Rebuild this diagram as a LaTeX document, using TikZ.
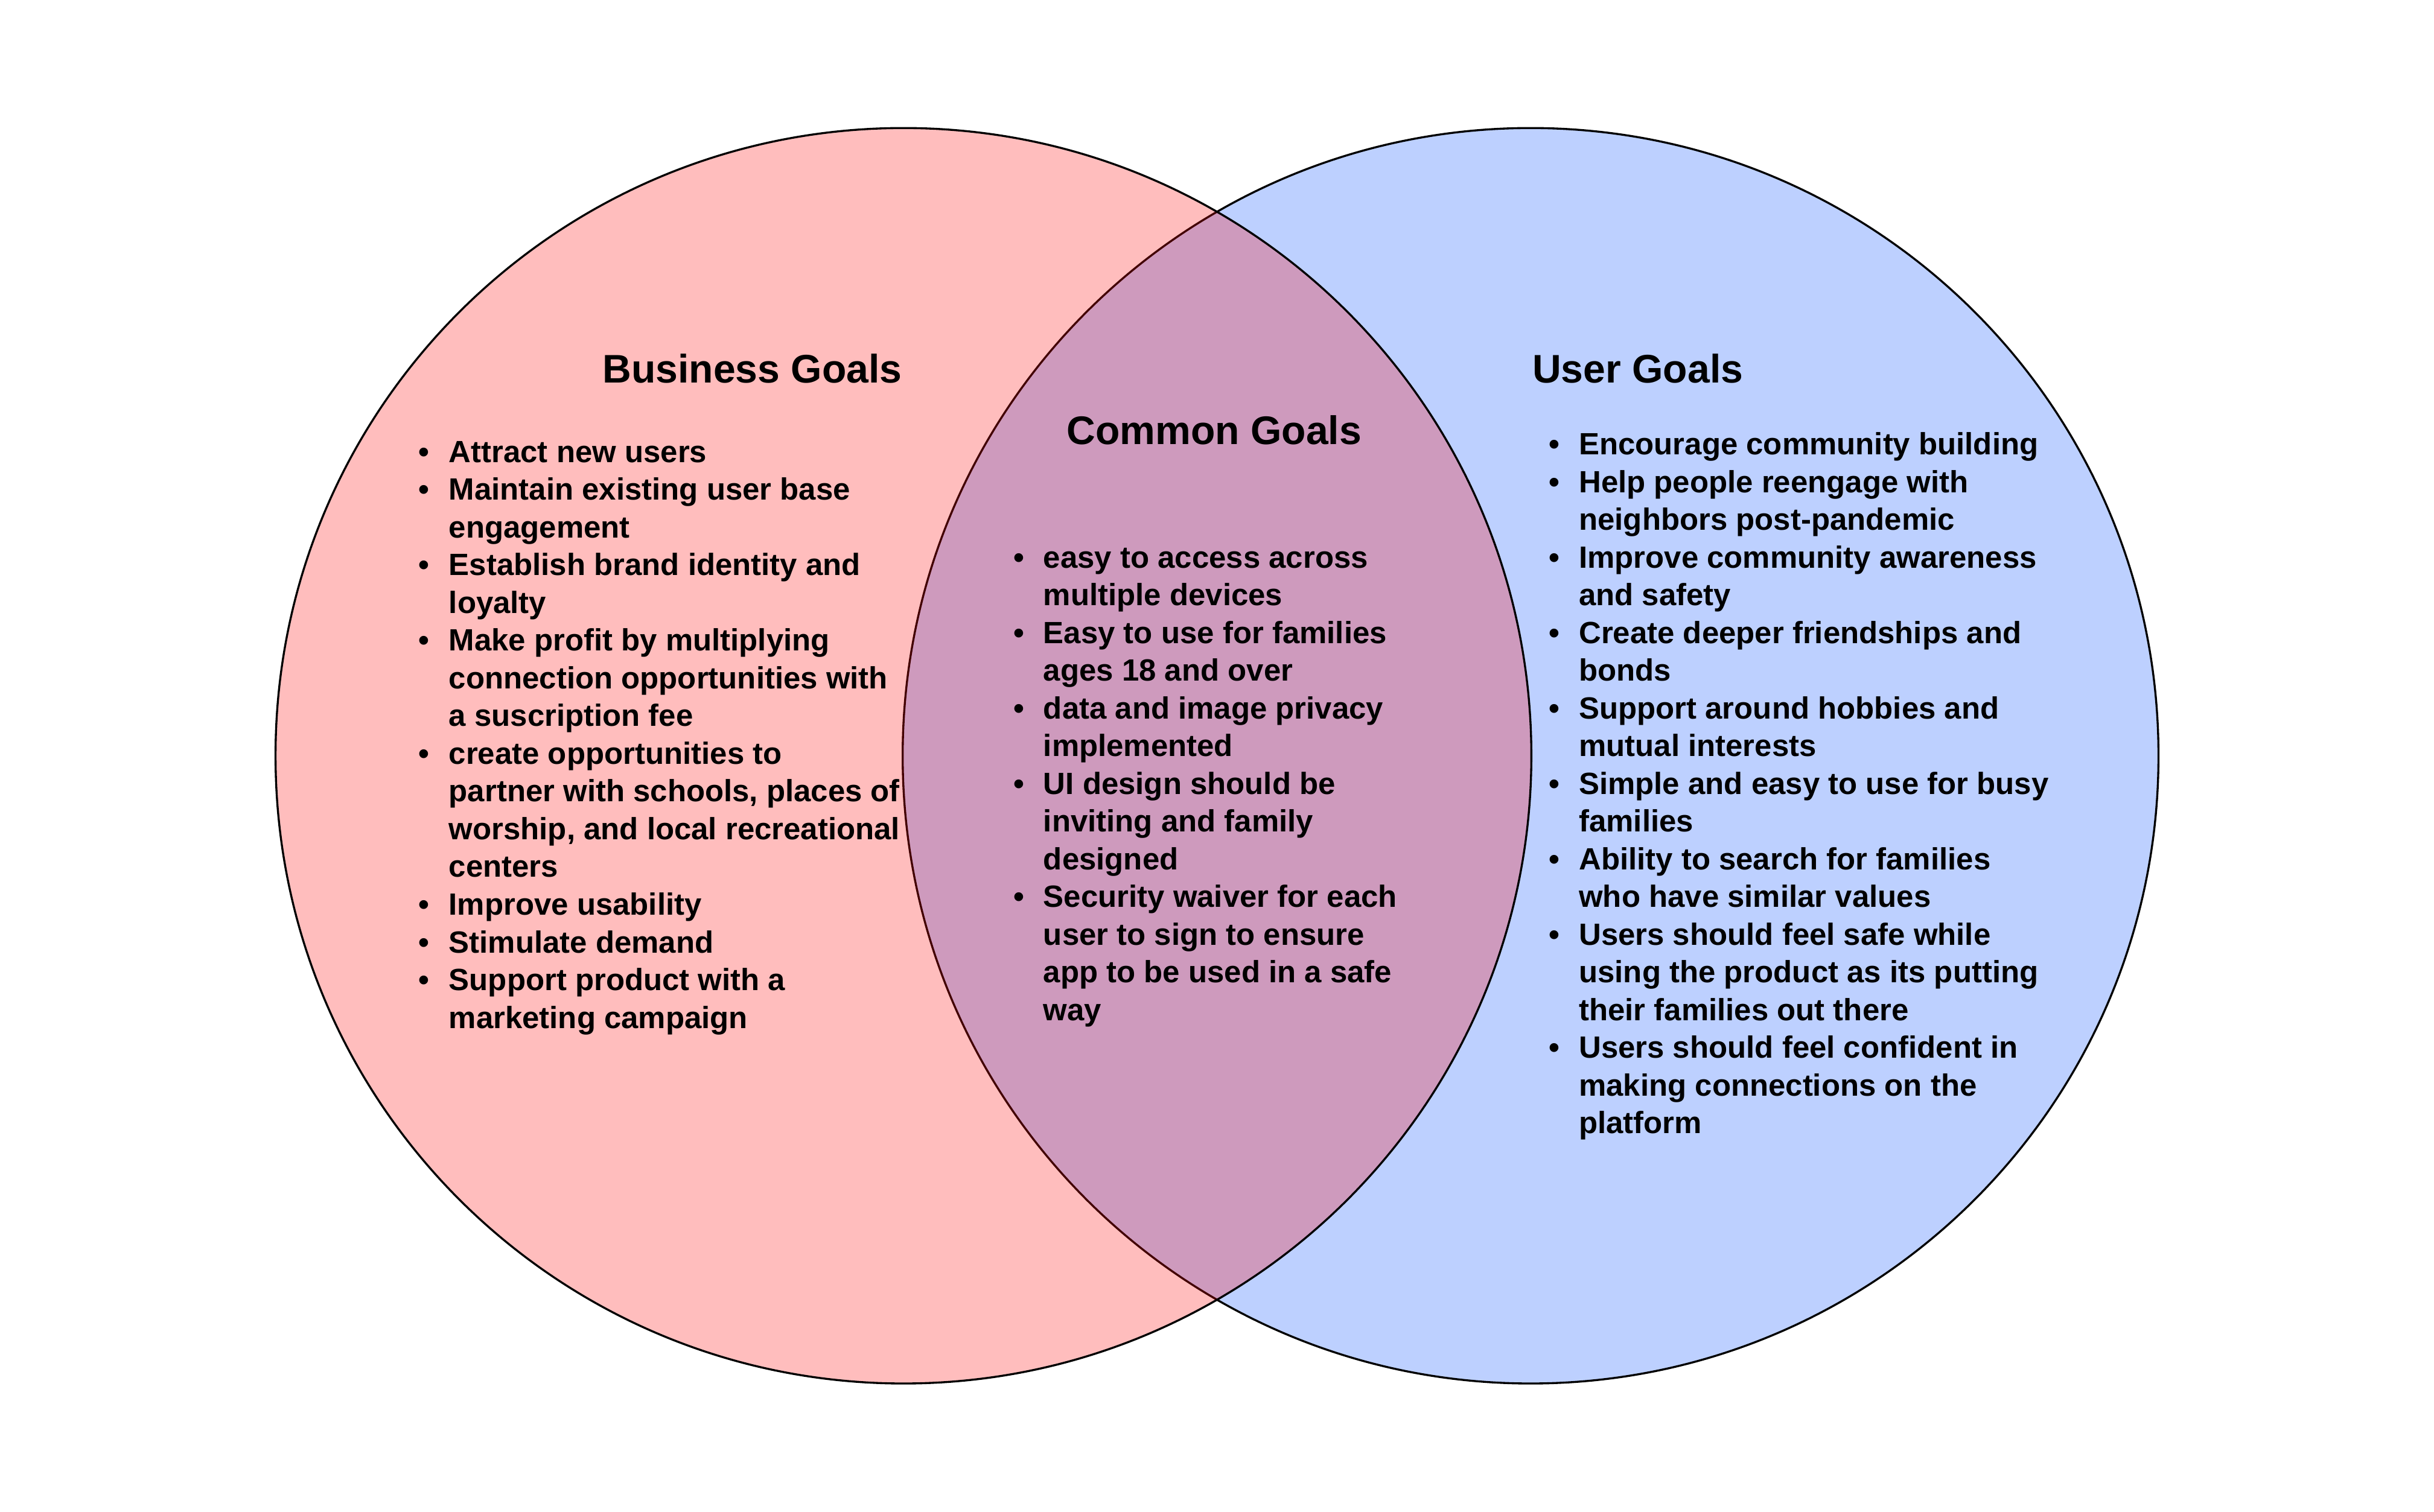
\documentclass[tikz,border=0pt]{standalone}
\usepackage{fontspec}
\setmainfont{Liberation Sans}
\definecolor{userblue}{RGB}{189,208,255}
\newcommand\bu{\makebox[19.4pt][l]{\textbullet}}
\newcommand\ct{\hspace*{19.4pt}}
\begin{document}
\begin{tikzpicture}[x=1pt,y=-1pt,
  ring/.style={draw=black,line width=1.3pt},
  head/.style={font=\bfseries\fontsize{25.7}{30}\selectfont,anchor=base west,inner sep=0pt},
  listbox/.style={font=\bfseries\fontsize{19.8}{24.3}\selectfont,anchor=base west,inner sep=0pt}]
\useasboundingbox (0,0) rectangle (1568,974);
\fill[white] (0,0) rectangle (1568,974);
\coordinate (bc) at (582,487);
\coordinate (uc) at (986,487);
% user circle (below)
\fill[userblue] (uc) circle[radius=404.5];
\draw[ring] (uc) circle[radius=404.5];
% business circle (translucent, on top)
\fill[red,fill opacity=0.26] (bc) circle[radius=404.5];
\draw[ring] (bc) circle[radius=404.5];

\node[head] (bt) at (388,246.5) {Business Goals};
\node[head] (ct) at (687,286.5) {Common Goals};
\node[head] (ut) at (987,246.5) {User Goals};

\node[listbox] (bl) at (269.6,298) {\begin{tabular}[t]{@{}l@{}}
\bu Attract new users\\
\bu Maintain existing user base\\
\ct engagement\\
\bu Establish brand identity and\\
\ct loyalty\\
\bu Make profit by multiplying\\
\ct connection opportunities with\\
\ct a suscription fee\\
\bu create opportunities to\\
\ct partner with schools, places of\\
\ct worship, and local recreational\\
\ct centers\\
\bu Improve usability\\
\bu Stimulate demand\\
\bu Support product with a\\
\ct marketing campaign
\end{tabular}};

\node[listbox] (cl) at (652.6,366) {\begin{tabular}[t]{@{}l@{}}
\bu easy to access across\\
\ct multiple devices\\
\bu Easy to use for families\\
\ct ages 18 and over\\
\bu data and image privacy\\
\ct implemented\\
\bu UI design should be\\
\ct inviting and family\\
\ct designed\\
\bu Security waiver for each\\
\ct user to sign to ensure\\
\ct app to be used in a safe\\
\ct way
\end{tabular}};

\node[listbox] (ul) at (997.6,293) {\begin{tabular}[t]{@{}l@{}}
\bu Encourage community building\\
\bu Help people reengage with\\
\ct neighbors post-pandemic\\
\bu Improve community awareness\\
\ct and safety\\
\bu Create deeper friendships and\\
\ct bonds\\
\bu Support around hobbies and\\
\ct mutual interests\\
\bu Simple and easy to use for busy\\
\ct families\\
\bu Ability to search for families\\
\ct who have similar values\\
\bu Users should feel safe while\\
\ct using the product as its putting\\
\ct their families out there\\
\bu Users should feel confident in\\
\ct making connections on the\\
\ct platform
\end{tabular}};
\end{tikzpicture}
\end{document}
